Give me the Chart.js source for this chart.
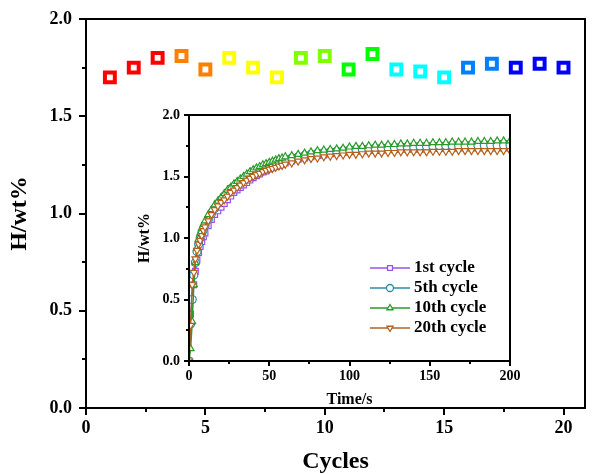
<!DOCTYPE html>
<html>
<head>
<meta charset="utf-8">
<script src="https://cdn.jsdelivr.net/npm/chart.js@4.4.1/dist/chart.umd.min.js"></script>
<style>
  body { margin: 0; background: #fff; }
  #wrap { position: relative; width: 596px; height: 474px; }
  #main { position: absolute; left: 0; top: 0; }
  #inset { position: absolute; left: 130px; top: 100px; }
</style>
</head>
<body>
<div id="wrap">
  <canvas id="main" width="596" height="474"></canvas>
  <canvas id="inset" width="390" height="310"></canvas>
</div>
<script>
// hydrogen capacity per cycle
const cycles = [1, 2, 3, 4, 5, 6, 7, 8, 9, 10, 11, 12, 13, 14, 15, 16, 17, 18, 19, 20]
const capacity = [1.70, 1.75, 1.80, 1.81, 1.74, 1.80, 1.75, 1.70, 1.80, 1.81,
    1.74, 1.82, 1.74, 1.73, 1.70, 1.75, 1.77, 1.75, 1.77, 1.75]
const cycleColors = ['#ff0000', '#ff0000', '#ff0000', '#ff8000', '#ff8000', '#ffff00', '#ffff00', '#ffff00', '#80ff00', '#80ff00',
    '#00ff00', '#00ff00', '#00ffff', '#00ffff', '#00ffff', '#0080ff', '#0080ff', '#0000ff', '#0000ff', '#0000ff']

// absorption kinetics (inset)
const time = [0, 1, 2, 3, 4, 5, 6, 7, 8, 9, 10,
    12, 14, 16, 18, 20, 22, 24, 26, 28, 30, 32, 34, 36, 38, 40, 42, 44, 46, 48, 50, 52, 54, 56, 58, 60,
    64, 68, 72, 76, 80, 84, 88, 92, 96, 100, 104, 108, 112, 116, 120, 124, 128, 132, 136, 140, 144, 148,
    152, 156, 160, 164, 168, 172, 176, 180, 184, 188, 192, 196, 200]
const cycle1 = [0, 0.38, 0.50, 0.62, 0.73, 0.82, 0.88, 0.93, 0.97, 1.01, 1.04,
    1.10, 1.15, 1.19, 1.22, 1.25, 1.28, 1.31, 1.34, 1.37, 1.39, 1.41, 1.43, 1.45, 1.47, 1.49, 1.505, 1.52, 1.535, 1.545, 1.56, 1.57, 1.58, 1.59, 1.60, 1.61,
    1.625, 1.64, 1.65, 1.66, 1.67, 1.675, 1.685, 1.69, 1.695, 1.70, 1.705, 1.71, 1.71, 1.715, 1.72, 1.72, 1.72, 1.725, 1.725, 1.73, 1.73, 1.73,
    1.73, 1.735, 1.735, 1.735, 1.735, 1.74, 1.74, 1.74, 1.74, 1.74, 1.74, 1.745, 1.745]
const cycle5 = [0, 0.30, 0.50, 0.70, 0.80, 0.89, 0.95, 1.00, 1.04, 1.07, 1.10,
    1.15, 1.20, 1.24, 1.28, 1.31, 1.34, 1.37, 1.40, 1.42, 1.44, 1.46, 1.48, 1.50, 1.52, 1.535, 1.55, 1.56, 1.575, 1.585, 1.595, 1.605, 1.615, 1.625, 1.63, 1.64,
    1.65, 1.66, 1.67, 1.68, 1.69, 1.695, 1.70, 1.705, 1.71, 1.715, 1.72, 1.72, 1.725, 1.73, 1.73, 1.735, 1.735, 1.74, 1.74, 1.74, 1.745, 1.745,
    1.745, 1.75, 1.75, 1.75, 1.75, 1.75, 1.755, 1.755, 1.755, 1.755, 1.755, 1.755, 1.755]
const cycle10 = [0, 0.10, 0.32, 0.62, 0.80, 0.92, 0.99, 1.04, 1.08, 1.11, 1.14,
    1.19, 1.23, 1.27, 1.30, 1.33, 1.36, 1.39, 1.41, 1.44, 1.46, 1.48, 1.50, 1.52, 1.54, 1.555, 1.57, 1.58, 1.595, 1.605, 1.615, 1.625, 1.635, 1.645, 1.65, 1.66,
    1.67, 1.68, 1.69, 1.70, 1.71, 1.715, 1.72, 1.725, 1.73, 1.74, 1.745, 1.745, 1.75, 1.755, 1.755, 1.76, 1.76, 1.765, 1.765, 1.77, 1.77, 1.77,
    1.775, 1.775, 1.775, 1.78, 1.78, 1.78, 1.78, 1.785, 1.785, 1.785, 1.79, 1.79, 1.79]
const cycle20 = [0, 0.29, 0.62, 0.72, 0.83, 0.90, 0.95, 0.98, 1.02, 1.06, 1.09,
    1.14, 1.19, 1.23, 1.26, 1.29, 1.31, 1.34, 1.37, 1.39, 1.41, 1.43, 1.45, 1.47, 1.485, 1.50, 1.515, 1.525, 1.54, 1.55, 1.56, 1.565, 1.575, 1.585, 1.59, 1.60,
    1.61, 1.625, 1.635, 1.645, 1.65, 1.66, 1.665, 1.67, 1.675, 1.68, 1.68, 1.685, 1.69, 1.69, 1.69, 1.695, 1.695, 1.70, 1.70, 1.70, 1.70, 1.70,
    1.705, 1.705, 1.705, 1.705, 1.71, 1.71, 1.71, 1.71, 1.71, 1.71, 1.71, 1.71, 1.71]

const serif = "'Liberation Serif', 'Times New Roman', serif"

// fixed axis box size, no extra room for overhanging labels
const fixAxis = size => s => {
    if (s.isHorizontal()) s.height = size
    else s.width = size
    s.paddingLeft = s.paddingRight = s.paddingTop = s.paddingBottom = 0
}

// box frame plus outward major/minor ticks
const frameTicks = {
    id: 'frameTicks',
    afterDraw(chart, args, opts) {
        const { ctx, chartArea: a, scales } = chart
        ctx.save()
        ctx.strokeStyle = '#000'
        ctx.lineWidth = opts.lineWidth
        ctx.strokeRect(a.left, a.top, a.right - a.left, a.bottom - a.top)
        const xs = scales.x, ys = scales.y
        for (let v = xs.min; v <= xs.max + 1e-9; v += opts.xMinor) {
            const isMajor = Math.abs(v / opts.xMajor - Math.round(v / opts.xMajor)) < 1e-6
            const px = Math.round(xs.getPixelForValue(v))
            ctx.beginPath()
            ctx.moveTo(px, a.bottom)
            ctx.lineTo(px, a.bottom + (isMajor ? opts.major : opts.minor))
            ctx.stroke()
        }
        for (let v = ys.min; v <= ys.max + 1e-9; v += opts.yMinor) {
            const isMajor = Math.abs(v / opts.yMajor - Math.round(v / opts.yMajor)) < 1e-6
            const py = Math.round(ys.getPixelForValue(v))
            ctx.beginPath()
            ctx.moveTo(a.left, py)
            ctx.lineTo(a.left - (isMajor ? opts.major : opts.minor), py)
            ctx.stroke()
        }
        ctx.restore()
    }
}

// legend with a line through each marker
const lineLegend = {
    id: 'lineLegend',
    afterDraw(chart, args, opts) {
        const { ctx, chartArea: a } = chart
        ctx.save()
        chart.data.datasets.forEach((ds, i) => {
            const x0 = a.left + opts.dx
            const y = a.top + opts.dy + i * opts.rowGap
            ctx.strokeStyle = ds.borderColor
            ctx.lineWidth = 1.5
            ctx.beginPath()
            ctx.moveTo(x0, y)
            ctx.lineTo(x0 + opts.lineLen, y)
            ctx.stroke()
            ctx.fillStyle = '#fff'
            ctx.lineWidth = 1.3
            Chart.helpers.drawPoint(ctx, {
                pointStyle: ds.pointStyle, radius: 3.5, borderWidth: 1.3, rotation: ds.pointRotation || 0
            }, x0 + opts.lineLen / 2, y)
            ctx.fillStyle = '#000'
            ctx.font = `bold ${opts.fontSize}px ${serif}`
            ctx.textBaseline = 'middle'
            ctx.fillText(ds.label, x0 + opts.lineLen + 4, y)
        })
        ctx.restore()
    }
}

new Chart(document.getElementById('main'), {
    type: 'scatter',
    data: {
        datasets: [{
            data: cycles.map((c, i) => ({ x: c, y: capacity[i] })),
            showLine: false,
            pointStyle: 'rect',
            pointRadius: 7,
            pointBorderWidth: 4,
            pointBackgroundColor: '#fff',
            pointBorderColor: cycleColors
        }]
    },
    options: {
        responsive: false,
        animation: false,
        layout: { padding: { top: 19, right: 2, left: 0, bottom: 0 } },
        plugins: {
            legend: { display: false },
            tooltip: { enabled: false },
            frameTicks: { lineWidth: 2, major: 7, minor: 4, xMajor: 5, xMinor: 2.5, yMajor: 0.5, yMinor: 0.25 }
        },
        scales: {
            x: {
                type: 'linear', min: 0, max: 20.9,
                grid: { display: false, drawTicks: false },
                border: { display: false },
                ticks: { stepSize: 5, includeBounds: false, padding: 10, color: '#000', font: { family: serif, size: 18, weight: 'bold' } },
                title: { display: true, text: 'Cycles', color: '#000', padding: { top: 0, bottom: 0 }, font: { family: serif, size: 24, weight: 'bold', lineHeight: 1 } },
                afterFit: fixAxis(66)
            },
            y: {
                min: 0, max: 2,
                grid: { display: false, drawTicks: false },
                border: { display: false },
                ticks: { stepSize: 0.5, padding: 14, color: '#000', font: { family: serif, size: 18, weight: 'bold' }, callback: v => v.toFixed(1) },
                title: { display: true, text: 'H/wt%', color: '#000', padding: { top: 8, bottom: 0 }, font: { family: serif, size: 24, weight: 'bold', lineHeight: 1 } },
                afterFit: fixAxis(86)
            }
        }
    },
    plugins: [frameTicks]
})

const kinetic = (label, values, color, style, order, rotation) => ({
    label,
    data: time.map((t, i) => ({ x: t, y: values[i] })),
    showLine: true,
    borderColor: color,
    borderWidth: 1.5,
    pointStyle: style,
    pointRotation: rotation,
    pointRadius: 4,
    pointBorderWidth: 1.2,
    pointBorderColor: color,
    pointBackgroundColor: '#fff',
    order
})

new Chart(document.getElementById('inset'), {
    type: 'scatter',
    data: {
        datasets: [
            kinetic('1st cycle', cycle1, '#9b4ff0', 'rect', 3, 0),
            kinetic('5th cycle', cycle5, '#2a8ca8', 'circle', 2, 0),
            kinetic('10th cycle', cycle10, '#2a9a2a', 'triangle', 1, 0),
            kinetic('20th cycle', cycle20, '#b5601c', 'triangle', 0, 180)
        ]
    },
    options: {
        responsive: false,
        animation: false,
        layout: { padding: { top: 15, right: 10, left: 0, bottom: 0 } },
        plugins: {
            legend: { display: false },
            tooltip: { enabled: false },
            frameTicks: { lineWidth: 2, major: 5, minor: 3, xMajor: 50, xMinor: 25, yMajor: 0.5, yMinor: 0.25 },
            lineLegend: { dx: 181, dy: 153, rowGap: 20, lineLen: 40, fontSize: 17 }
        },
        scales: {
            x: {
                type: 'linear', min: 0, max: 200,
                grid: { display: false, drawTicks: false },
                border: { display: false },
                ticks: { stepSize: 50, padding: 7, color: '#000', font: { family: serif, size: 14, weight: 'bold' } },
                title: { display: true, text: 'Time/s', color: '#000', padding: { top: 0, bottom: 2 }, font: { family: serif, size: 16, weight: 'bold', lineHeight: 1 } },
                afterFit: fixAxis(49)
            },
            y: {
                min: 0, max: 2,
                grid: { display: false, drawTicks: false },
                border: { display: false },
                ticks: { stepSize: 0.5, padding: 9, color: '#000', font: { family: serif, size: 14, weight: 'bold' }, callback: v => v.toFixed(1) },
                title: { display: true, text: 'H/wt%', color: '#000', padding: { top: 7, bottom: 0 }, font: { family: serif, size: 16, weight: 'bold', lineHeight: 1 } },
                afterFit: fixAxis(59)
            }
        }
    },
    plugins: [frameTicks, lineLegend]
})
</script>
</body>
</html>
